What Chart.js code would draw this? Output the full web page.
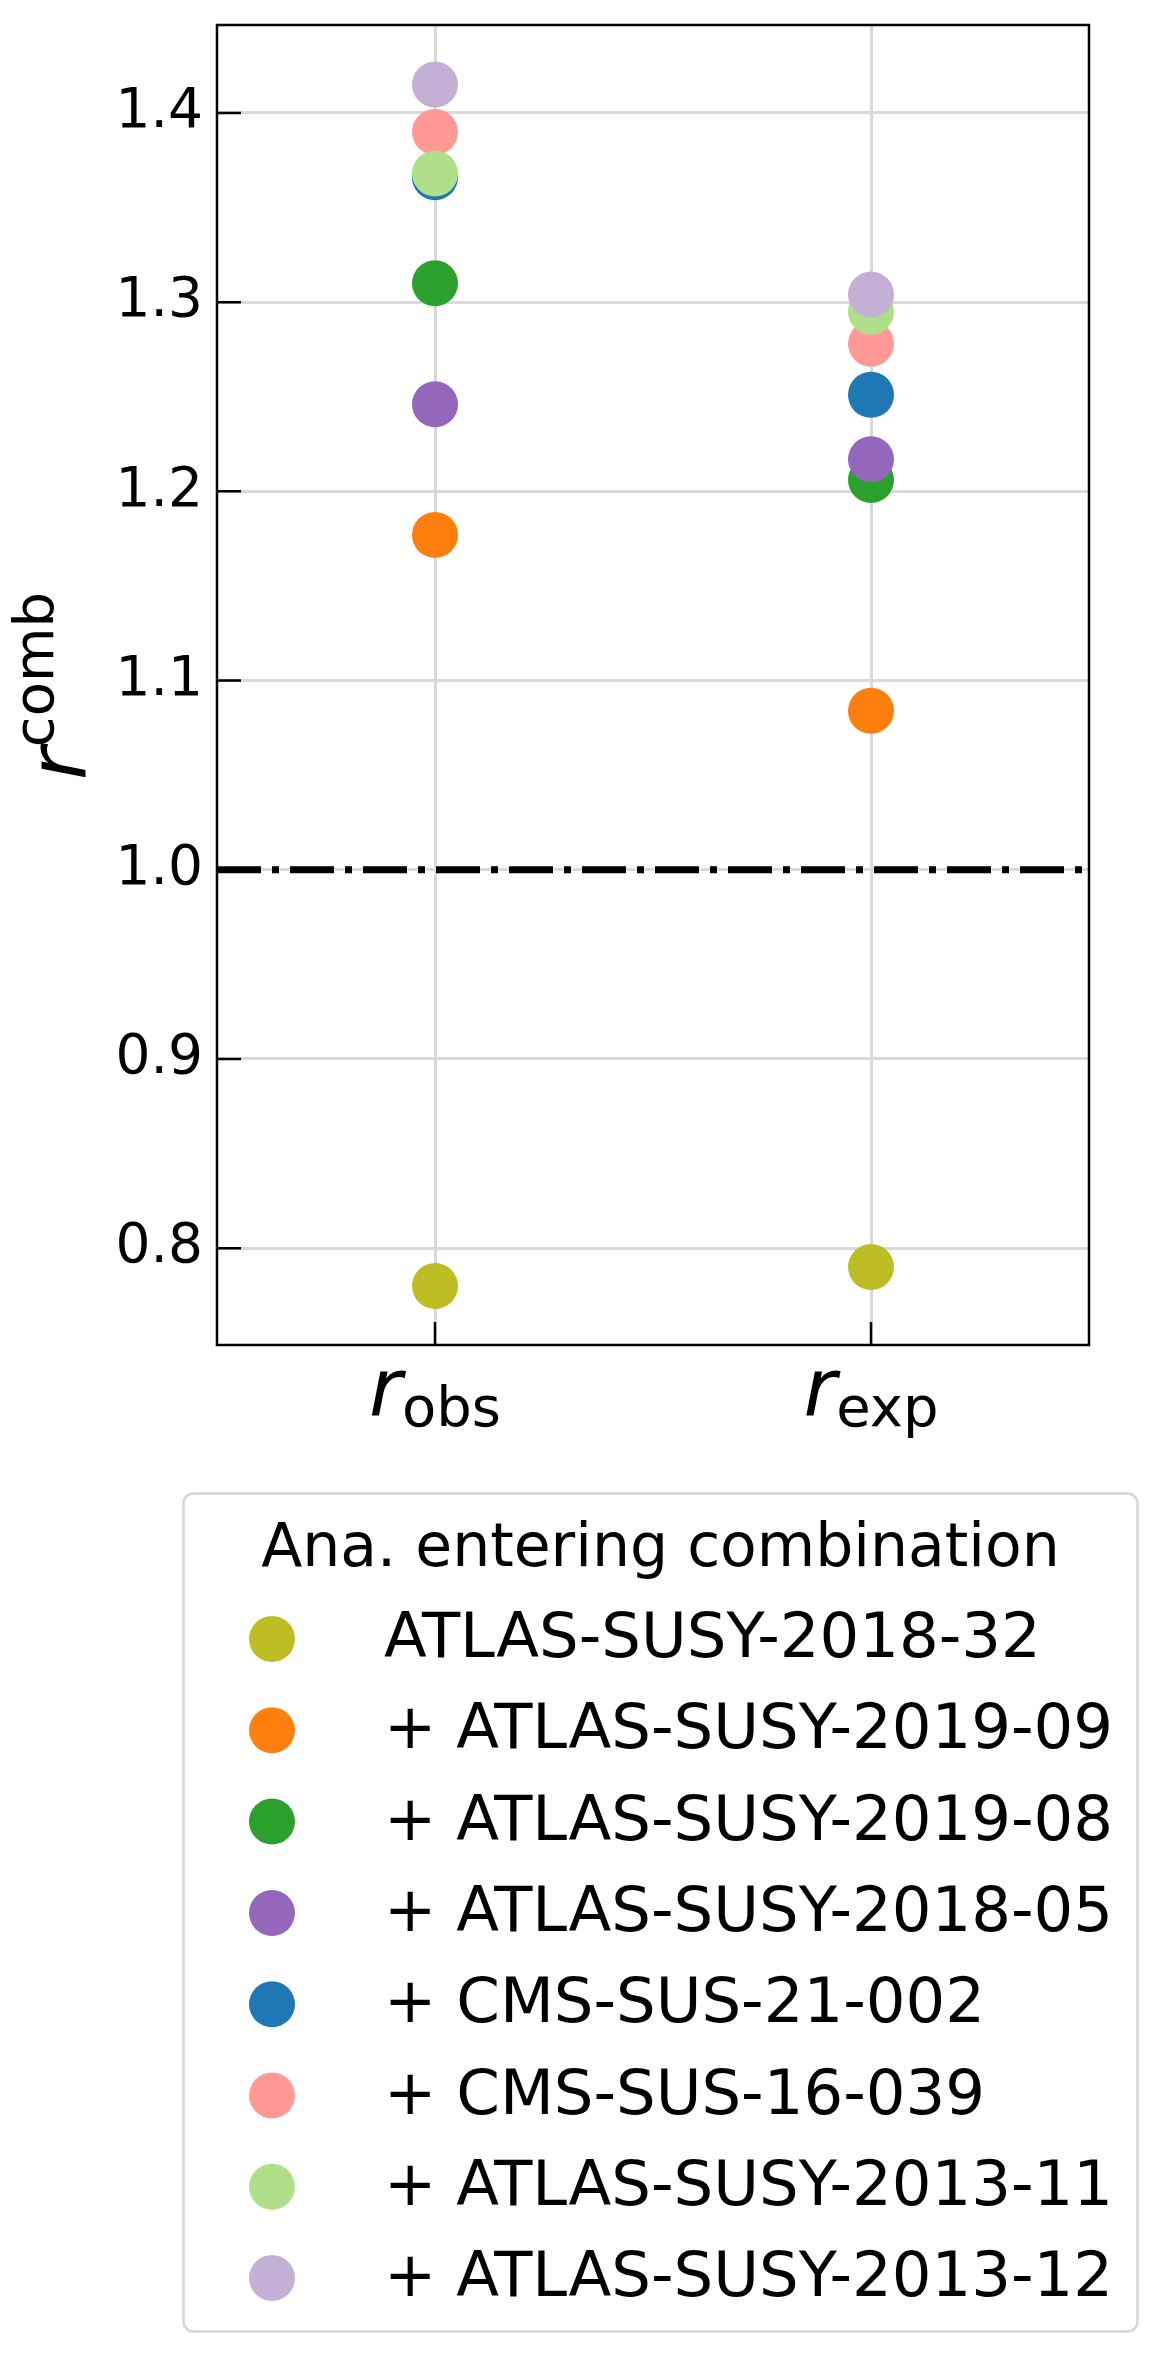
<!DOCTYPE html>
<html>
<head>
<meta charset="utf-8">
<script src="https://cdn.jsdelivr.net/npm/chart.js@4.4.1/dist/chart.umd.min.js"></script>
<style>
  html, body { margin: 0; padding: 0; background: #fff; }
</style>
</head>
<body>
<canvas id="chart" width="1162" height="2357"></canvas>
<script>
// x categories: r_obs, r_exp
const categories = ["obs", "exp"];
const analyses = [
    "ATLAS-SUSY-2018-32",
    "+ ATLAS-SUSY-2019-09",
    "+ ATLAS-SUSY-2019-08",
    "+ ATLAS-SUSY-2018-05",
    "+ CMS-SUS-21-002",
    "+ CMS-SUS-16-039",
    "+ ATLAS-SUSY-2013-11",
    "+ ATLAS-SUSY-2013-12"
];
const colors = ["#bcbd22", "#ff7f0e", "#2ca02c", "#9467bd", "#1f77b4", "#ff9896", "#b0df8a", "#c5b0d5"];
const rObs = [0.780, 1.177, 1.310, 1.246, 1.366, 1.390, 1.368, 1.415];
const rExp = [0.790, 1.084, 1.206, 1.217, 1.251, 1.278, 1.295, 1.304];
const yTicks = [0.8, 0.9, 1.0, 1.1, 1.2, 1.3, 1.4];
const yMin = 0.7488, yMax = 1.4465;
const xMin = -0.5, xMax = 1.5;
const refLine = 1.0;
const legendTitle = "Ana. entering combination";

const FONT = '"DejaVu Sans", "Liberation Sans", sans-serif';

var datasets = [];
for (var i = 0; i < analyses.length; i++) {
    datasets.push({
        type: 'scatter',
        label: analyses[i],
        data: [{x: 0, y: rObs[i]}, {x: 1, y: rExp[i]}],
        backgroundColor: colors[i],
        borderWidth: 0,
        pointRadius: 23,
        pointHoverRadius: 23,
        order: analyses.length - i   // later analyses on top, like matplotlib
    });
}
datasets.push({
    type: 'line',
    label: 'ref',
    data: [{x: xMin, y: refLine}, {x: xMax, y: refLine}],
    borderColor: '#000',
    borderWidth: 7,
    borderDash: [44, 11, 7, 11],
    borderCapStyle: 'butt',
    pointRadius: 0,
    fill: false,
    order: 0
});

// inward ticks, frame, math labels, legend
const decorations = {
    id: 'decorations',
    afterDraw(chart) {
        const ctx = chart.ctx;
        const a = chart.chartArea;
        const xs = chart.scales.x, ys = chart.scales.y;
        ctx.save();

        // frame
        ctx.strokeStyle = '#000';
        ctx.lineWidth = 2.5;
        ctx.strokeRect(a.left, a.top, a.right - a.left, a.bottom - a.top);

        // inward ticks
        ctx.beginPath();
        yTicks.forEach(v => {
            var py = ys.getPixelForValue(v);
            ctx.moveTo(a.left, py);
            ctx.lineTo(a.left + 24, py);
        });
        categories.forEach((c, i) => {
            var px = xs.getPixelForValue(i);
            ctx.moveTo(px, a.bottom);
            ctx.lineTo(px, a.bottom - 23);
        });
        ctx.stroke();

        ctx.fillStyle = '#000';
        ctx.textBaseline = 'alphabetic';

        // x tick labels r_obs, r_exp
        categories.forEach((c, i) => {
            var px = xs.getPixelForValue(i);
            ctx.font = 'italic 80px ' + FONT;
            var wr = ctx.measureText('r').width;
            ctx.font = '56px ' + FONT;
            var ws = ctx.measureText(c).width;
            var x0 = px - (wr + ws) / 2;
            ctx.font = 'italic 80px ' + FONT;
            ctx.textAlign = 'left';
            ctx.fillText('r', x0, a.bottom + 70);
            ctx.font = '56px ' + FONT;
            ctx.fillText(c, x0 + wr, a.bottom + 81);
        });

        // y title r^comb
        ctx.save();
        ctx.translate(85, (a.top + a.bottom) / 2 + 1);
        ctx.rotate(-Math.PI / 2);
        ctx.font = 'italic 80px ' + FONT;
        var w1 = ctx.measureText('r').width;
        ctx.font = '56px ' + FONT;
        var w2 = ctx.measureText('comb').width;
        var s = -(w1 + w2) / 2;
        ctx.textAlign = 'left';
        ctx.font = 'italic 80px ' + FONT;
        ctx.fillText('r', s, 0);
        ctx.font = '56px ' + FONT;
        ctx.fillText('comb', s + w1, -32);
        ctx.restore();

        // legend
        var lx = 183.5, ly = 1493.5, lw = 954, lh = 838;
        ctx.beginPath();
        ctx.roundRect(lx, ly, lw, lh, 10);
        ctx.fillStyle = '#fff';
        ctx.fill();
        ctx.strokeStyle = '#d6d6d6';
        ctx.lineWidth = 2.5;
        ctx.stroke();

        ctx.fillStyle = '#000';
        ctx.font = '60px ' + FONT;
        ctx.textAlign = 'center';
        ctx.fillText(legendTitle, lx + lw / 2, 1566);

        ctx.textAlign = 'left';
        ctx.font = '62.5px ' + FONT;
        chart.data.datasets.forEach((ds, i) => {
            if (ds.type !== 'scatter') return;
            var cy = 1639 + i * 91.3;
            ctx.beginPath();
            ctx.arc(272, cy, 23, 0, Math.PI * 2);
            ctx.fillStyle = ds.backgroundColor;
            ctx.fill();
            ctx.fillStyle = '#000';
            ctx.fillText(ds.label, 384, cy + 18);
        });

        ctx.restore();
    }
};

new Chart(document.getElementById('chart'), {
    type: 'scatter',
    data: { datasets: datasets },
    plugins: [decorations],
    options: {
        responsive: false,
        animation: false,
        devicePixelRatio: 1,
        layout: {
            padding: { left: 0, top: 25, right: 73, bottom: 912 }
        },
        plugins: {
            legend: { display: false },
            tooltip: { enabled: false }
        },
        scales: {
            x: {
                type: 'linear',
                min: xMin,
                max: xMax,
                afterBuildTicks: (scale) => {
                    scale.ticks = categories.map((c, i) => ({ value: i }));
                },
                afterFit: (scale) => {
                    scale.height = 100;
                    scale.paddingLeft = 0;
                    scale.paddingRight = 0;
                },
                ticks: { display: false },
                grid: { color: '#d9d9d9', lineWidth: 3, drawTicks: false },
                border: { display: false }
            },
            y: {
                type: 'linear',
                min: yMin,
                max: yMax,
                afterBuildTicks: (scale) => {
                    scale.ticks = yTicks.map(v => ({ value: v }));
                },
                afterFit: (scale) => {
                    scale.width = 217;
                    scale.paddingTop = 0;
                    scale.paddingBottom = 0;
                },
                ticks: {
                    color: '#000',
                    font: { family: FONT, size: 55 },
                    padding: 14,
                    callback: (v) => v.toFixed(1)
                },
                grid: { color: '#d9d9d9', lineWidth: 3, drawTicks: false },
                border: { display: false }
            }
        }
    }
});
</script>
</body>
</html>
